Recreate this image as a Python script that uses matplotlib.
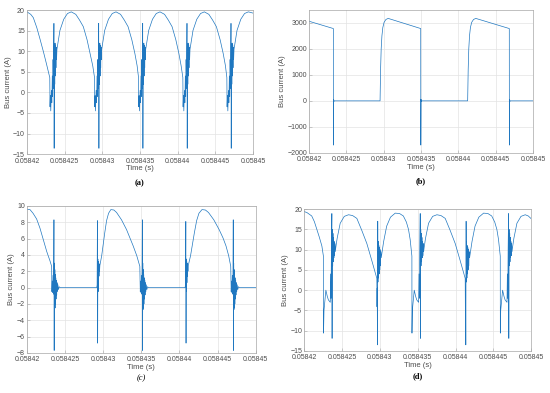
import matplotlib
matplotlib.use('Agg')
import matplotlib.pyplot as plt

# time in microseconds after 0.05842 s
t0 = 0.05842

# (a)
ta = [0, 0.5, 0.84, 1.3, 1.73, 2.2, 2.61, 3.03,
      3.06, 3.11, 3.16, 3.24, 3.30, 3.36, 3.41, 3.46, 3.51, 3.55, 3.58, 3.61, 3.65, 3.69, 3.73, 3.77, 3.81, 3.85, 3.89, 3.93, 3.98,
      4.38, 4.88, 5.38, 5.88, 6.48, 6.98, 7.48, 7.98, 8.38, 8.73, 8.97,
      9.00, 9.05, 9.10, 9.18, 9.24, 9.30, 9.35, 9.40, 9.45, 9.49, 9.52, 9.55, 9.59, 9.63, 9.67, 9.71, 9.75, 9.79, 9.83, 9.87, 9.92,
      10.32, 10.82, 11.32, 11.82, 12.42, 12.92, 13.42, 13.92, 14.32, 14.62, 14.81,
      14.84, 14.89, 14.94, 15.02, 15.08, 15.14, 15.19, 15.24, 15.29, 15.33, 15.36, 15.39, 15.43, 15.47, 15.51, 15.55, 15.59, 15.63, 15.67, 15.71, 15.76,
      16.16, 16.66, 17.16, 17.66, 18.26, 18.76, 19.26, 19.76, 20.16, 20.46, 20.69,
      20.72, 20.77, 20.82, 20.90, 20.96, 21.02, 21.07, 21.12, 21.17, 21.21, 21.24, 21.27, 21.31, 21.35, 21.39, 21.43, 21.47, 21.51, 21.55, 21.59, 21.64,
      22.04, 22.54, 23.04, 23.54, 24.14, 24.64, 25.14, 25.64, 26.04, 26.34, 26.53,
      26.56, 26.61, 26.66, 26.74, 26.80, 26.86, 26.91, 26.96, 27.01, 27.05, 27.08, 27.11, 27.15, 27.19, 27.23, 27.27, 27.31, 27.35, 27.39, 27.43, 27.48,
      27.88, 28.38, 28.88, 29.38, 30.0]
ia = [19.6, 19.0, 18.2, 15.8, 13.0, 9.8, 6.8, 3.6,
      -3.5, -0.8, -4.5, 0.5, -2.5, 4, -1, 8, 1, 9.5, 16.8, -13.6, 11.5, 2, 12, 4, 11.5, 6, 11, 8, 10.5,
      15.1, 17.8, 19.2, 19.6, 19.0, 17.6, 16.0, 12.8, 9.5, 6.5, 3.6,
      -3.5, -0.8, -4.5, 0.5, -2.5, 4, -1, 8, 1, 9.5, 16.8, -13.6, 11.5, 2, 12, 4, 11.5, 6, 11, 8, 10.5,
      15.1, 17.8, 19.2, 19.6, 19.0, 17.6, 16.0, 12.8, 9.5, 6.5, 3.6,
      -3.5, -0.8, -4.5, 0.5, -2.5, 4, -1, 8, 1, 9.5, 16.8, -13.6, 11.5, 2, 12, 4, 11.5, 6, 11, 8, 10.5,
      15.1, 17.8, 19.2, 19.6, 19.0, 17.6, 16.0, 12.8, 9.5, 6.5, 3.6,
      -3.5, -0.8, -4.5, 0.5, -2.5, 4, -1, 8, 1, 9.5, 16.8, -13.6, 11.5, 2, 12, 4, 11.5, 6, 11, 8, 10.5,
      15.1, 17.8, 19.2, 19.6, 19.0, 17.6, 16.0, 12.8, 9.5, 6.5, 3.6,
      -3.5, -0.8, -4.5, 0.5, -2.5, 4, -1, 8, 1, 9.5, 16.8, -13.6, 11.5, 2, 12, 4, 11.5, 6, 11, 8, 10.5,
      15.1, 17.8, 19.2, 19.6, 19.3]

# (b)
tb = [0, 3.25, 3.26, 3.29, 3.33, 3.40,
      9.51, 9.58, 9.66, 9.76, 9.88, 10.05, 10.3, 10.6,
      14.96, 14.97, 15.00, 15.04, 15.11,
      21.25, 21.32, 21.40, 21.50, 21.62, 21.79, 22.04, 22.34,
      26.83, 26.84, 26.87, 26.91, 26.98, 30.0]
ib = [3060, 2780, -1700, 60, -20, 0,
      0, 1200, 2000, 2500, 2820, 3020, 3130, 3170,
      2780, -1700, 60, -20, 0,
      0, 1200, 2000, 2500, 2820, 3020, 3130, 3170,
      2780, -1700, 60, -20, 0, 0]

# (c)
tc = [0, 0.4, 0.8, 1.27, 1.7, 2.14, 2.6, 3.01, 3.24,
      3.27, 3.32, 3.37, 3.42, 3.47, 3.51, 3.54, 3.57, 3.60, 3.63, 3.66, 3.69, 3.72, 3.75, 3.78, 3.82, 3.86, 3.90, 3.95, 4.00, 4.06, 4.13, 4.22, 4.35,
      9.14, 9.20, 9.24, 9.27, 9.30, 9.33, 9.36, 9.39, 9.42, 9.45, 9.48, 9.52, 9.56,
      9.8, 10.0, 10.2, 10.44, 10.7, 11.0, 11.4, 11.75, 12.4, 13.06, 13.5, 13.93, 14.4, 14.8,
      14.86, 14.91, 14.96, 15.01, 15.06, 15.10, 15.13, 15.16, 15.19, 15.22, 15.25, 15.28, 15.31, 15.34, 15.37, 15.41, 15.45, 15.49, 15.54, 15.59, 15.65, 15.72, 15.81, 15.94,
      20.73, 20.79, 20.83, 20.86, 20.89, 20.92, 20.95, 20.98, 21.01, 21.04, 21.07, 21.11, 21.15,
      21.45, 21.7, 21.95, 22.25, 22.55, 22.95, 23.4, 23.8, 24.5, 25.2, 25.7, 26.1, 26.45, 26.72,
      26.78, 26.83, 26.88, 26.93, 26.98, 27.02, 27.05, 27.08, 27.11, 27.14, 27.17, 27.20, 27.23, 27.26, 27.29, 27.33, 27.37, 27.41, 27.46, 27.51, 27.57, 27.64, 27.73, 27.86, 30.0]
ic = [9.6, 9.55, 9.1, 8.4, 7.3, 5.9, 4.4, 3.3, 2.6,
      -0.5, 0.8, -0.6, 1.5, -0.8, 2.2, 8.3, -7.7, 3.0, -2.7, 2.2, -2.5, 1.6, -2.0, 1.2, -1.4, 0.9, -0.9, 0.6, -0.5, 0.35, -0.25, 0.1, 0,
      0, 0.3, 8.2, -6.8, 3.5, -0.5, 3.2, 0.6, 3.0, 1.4, 2.8, 2.0, 2.7,
      3.9, 5.3, 6.7, 8.2, 9.1, 9.55, 9.5, 9.2, 8.3, 7.1, 6.1, 5.1, 3.9, 2.6,
      -0.5, 0.8, -0.6, 1.5, -0.8, 2.2, 8.3, -7.7, 3.0, -2.7, 2.2, -2.5, 1.6, -2.0, 1.2, -1.4, 0.9, -0.9, 0.6, -0.5, 0.35, -0.25, 0.1, 0,
      0, 0.3, 8.1, -6.8, 3.5, -0.5, 3.2, 0.6, 3.0, 1.4, 2.8, 2.0, 2.7,
      3.9, 5.3, 6.7, 8.2, 9.1, 9.55, 9.5, 9.2, 8.3, 7.1, 6.1, 5.1, 3.9, 2.6,
      -0.5, 0.8, -0.6, 1.5, -0.8, 2.2, 8.3, -7.7, 3.0, -2.7, 2.2, -2.5, 1.6, -2.0, 1.2, -1.4, 0.9, -0.9, 0.6, -0.5, 0.35, -0.25, 0.1, 0, 0]

# (d)
td = [0, 0.4, 1.0, 1.35, 1.68, 2.0, 2.34, 2.55,
      2.56, 2.62, 2.75, 2.87, 3.05, 3.2, 3.45, 3.5, 3.55, 3.6, 3.66, 3.69, 3.73, 3.77, 3.81, 3.85, 3.89, 3.93, 3.97, 4.01, 4.06, 4.11, 4.2,
      4.36, 4.76, 5.3, 5.86, 6.4, 6.96, 7.6, 8.28, 8.95, 9.6,
      9.62, 9.65, 9.68, 9.72, 9.75, 9.79, 9.83, 9.87, 9.91, 9.95, 9.99, 10.03, 10.07, 10.12, 10.18,
      10.5, 10.9, 11.4, 12.03, 12.6, 13.1, 13.5, 13.78, 14.0, 14.23,
      14.24, 14.29, 14.42, 14.54, 14.72, 14.87, 15.12, 15.17, 15.22, 15.27, 15.33, 15.36, 15.40, 15.44, 15.48, 15.52, 15.56, 15.60, 15.64, 15.68, 15.73, 15.78, 15.87,
      16.03, 16.43, 16.97, 17.53, 18.07, 18.63, 19.27, 19.95, 20.62, 21.27,
      21.29, 21.32, 21.35, 21.39, 21.42, 21.46, 21.50, 21.54, 21.58, 21.62, 21.66, 21.70, 21.74, 21.79, 21.85,
      22.17, 22.57, 23.07, 23.70, 24.27, 24.77, 25.17, 25.45, 25.67, 25.90,
      25.91, 25.96, 26.09, 26.21, 26.39, 26.54, 26.79, 26.84, 26.89, 26.94, 27.00, 27.03, 27.07, 27.11, 27.15, 27.19, 27.23, 27.27, 27.31, 27.35, 27.40, 27.45, 27.54,
      27.70, 28.10, 28.64, 29.2, 29.6, 30.0]
i_d = [19.4, 19.1, 18.3, 16.9, 15.0, 13.1, 10.9, 8.3,
       -10.6, -5.0, -2.5, 0.0, -1.5, -2.4, -3.0, 4, -2, 10, 18.9, -11.9, 15, 6, 14, 7, 13, 8, 12, 8.5, 11.5, 9.5, 10.8,
       12.8, 16.5, 18.2, 18.6, 18.4, 17.7, 14.8, 11.5, 7.2, 2.9,
       -4.1, 0.5, -13.5, 17.0, 2, 12, 3, 11, 4, 10.5, 5, 10, 6, 9.5, 8,
       12, 15.8, 18.0, 19.0, 18.9, 18.3, 16.8, 15.0, 12.5, 8.4,
       -10.6, -5.0, -2.5, 0.0, -1.5, -2.4, -3.0, 4, -2, 10, 18.9, -11.9, 15, 6, 14, 7, 13, 8, 12, 8.5, 11.5, 9.5, 10.8,
       12.8, 16.5, 18.2, 18.6, 18.4, 17.7, 14.8, 11.5, 7.2, 2.9,
       -4.1, 0.5, -13.5, 17.0, 2, 12, 3, 11, 4, 10.5, 5, 10, 6, 9.5, 8,
       12, 15.8, 18.0, 19.0, 18.9, 18.3, 16.8, 15.0, 12.5, 8.4,
       -10.6, -5.0, -2.5, 0.0, -1.5, -2.4, -3.0, 4, -2, 10, 18.9, -11.9, 15, 6, 14, 7, 13, 8, 12, 8.5, 11.5, 9.5, 10.8,
       12.8, 16.5, 18.2, 18.6, 18.3, 17.6]

xticks = [0.05842, 0.058425, 0.05843, 0.058435, 0.05844, 0.058445, 0.05845]
xticklabels = ['0.05842', '0.058425', '0.05843', '0.058435', '0.05844', '0.058445', '0.05845']

yticks_a = [-15, -10, -5, 0, 5, 10, 15, 20]
yticks_b = [-2000, -1000, 0, 1000, 2000, 3000]
yticks_c = [-8, -6, -4, -2, 0, 2, 4, 6, 8, 10]
yticks_d = [-15, -10, -5, 0, 5, 10, 15, 20]

captions = ['(a)', '(b)', '(c)', '(d)']

plt.rcParams['font.family'] = ['Liberation Sans', 'DejaVu Sans']

fig = plt.figure( figsize=(5.5, 3.93), dpi=100 )
fig.patch.set_facecolor('white')

panels = [ ( [0.049, 0.608, 0.411, 0.366], ta, ia, yticks_a, (-15, 20) ),
           ( [0.562, 0.611, 0.407, 0.364], tb, ib, yticks_b, (-2000, 3500) ),
           ( [0.049, 0.102, 0.416, 0.374], tc, ic, yticks_c, (-8, 10) ),
           ( [0.553, 0.107, 0.413, 0.361], td, i_d, yticks_d, (-15, 20) ) ]

line_color = '#1f77c0'
grey = '#4d4d4d'

for k, ( pos, t, cur, yt, ylim ) in enumerate( panels ):
    ax = fig.add_axes( pos )
    ax.plot( [ t0 + v * 1e-6 for v in t ], cur, color=line_color, lw=0.5 )
    ax.set_xlim( 0.05842, 0.05845 )
    ax.set_ylim( *ylim )
    ax.set_xticks( xticks )
    ax.set_xticklabels( xticklabels )
    ax.set_yticks( yt )
    ax.grid( True, color='#e3e3e3', lw=0.5 )
    ax.set_axisbelow( True )
    for s in ax.spines.values():
        s.set_color( '#a6a6a6' )
        s.set_linewidth( 0.5 )
    ax.tick_params( direction='in', length=2, width=0.4, color='#a6a6a6',
                    labelsize=5, labelcolor=grey, pad=1.5 )
    ax.tick_params( axis='x', pad=2.5 )
    ax.set_xlabel( 'Time (s)', fontsize=5.5, color=grey, labelpad=0.5 )
    ax.set_ylabel( 'Bus current (A)', fontsize=5.5, color=grey, labelpad=1 )
    style = 'italic' if k == 2 else 'normal'
    weight = 'normal' if k == 2 else 'bold'
    ax.text( 0.5, -0.2 if k < 2 else -0.175, captions[k], transform=ax.transAxes,
             ha='center', va='center', fontsize=6, family='Liberation Serif',
             fontweight=weight, fontstyle=style )

plt.savefig( 'out.png', dpi=100 )
